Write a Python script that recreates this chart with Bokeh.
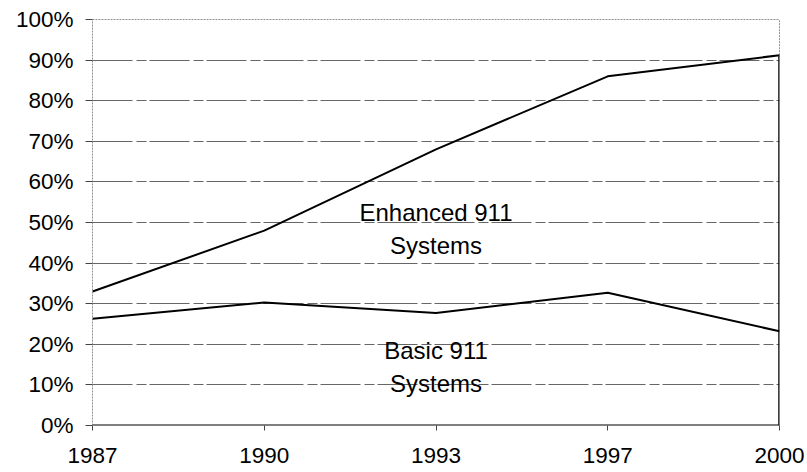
from bokeh.plotting import figure
from bokeh.models import FixedTicker, Range1d
from bokeh.core.properties import value
from bokeh.embed import file_html
from bokeh.resources import INLINE

years = ["1987", "1990", "1993", "1997", "2000"]
upper_line = [33, 48, 68, 86, 91.2]   # top of Enhanced 911 band
lower_line = [26.3, 30.3, 27.7, 32.7, 23.2]  # top of Basic 911 band
y_ticks = [0, 10, 20, 30, 40, 50, 60, 70, 80, 90, 100]

xs = list(range(len(years)))
FONT = "Liberation Sans"

W, H = 805, 468
p = figure(width=W, height=H, output_backend="svg", toolbar_location=None,
           x_range=Range1d(0, len(years) - 1), y_range=Range1d(0, 100),
           min_border_left=92, min_border_right=W - 779,
           min_border_top=19, min_border_bottom=H - 425)
p.outline_line_color = None
p.background_fill_color = "white"
p.border_fill_color = "white"

# axes
p.xaxis.ticker = FixedTicker(ticks=xs)
p.xaxis.major_label_overrides = {i: y for i, y in enumerate(years)}
p.yaxis.ticker = FixedTicker(ticks=y_ticks)
p.yaxis.major_label_overrides = {t: f"{t}%" for t in y_ticks}
for ax in (p.xaxis, p.yaxis):
    ax.axis_line_color = None
    ax.minor_tick_line_color = None
    ax.major_tick_line_color = "#444444"
    ax.major_tick_in = 0
    ax.major_label_text_font = FONT
    ax.major_label_text_font_size = "22.5px"
    ax.major_label_text_color = "black"
p.yaxis.major_tick_out = 7
p.yaxis.major_label_standoff = 12
p.xaxis.major_tick_out = 5
p.xaxis.major_label_standoff = 17

p.xgrid.grid_line_color = None
p.ygrid.ticker = FixedTicker(ticks=y_ticks[1:-1])
p.ygrid.grid_line_color = "#666666"
p.ygrid.grid_line_width = 1
p.ygrid.grid_line_dash = "40 4 10 3"

# frame: top & left dotted, bottom solid
p.segment(x0=[0, 0], y0=[100, 0], x1=[len(years) - 1, 0], y1=[100, 100],
          line_color="#222222", line_width=1, line_dash="2 1")
p.segment(x0=[len(years) - 1], y0=[upper_line[-1]], x1=[len(years) - 1], y1=[100],
          line_color="#222222", line_width=1, line_dash="2 1")
p.segment(x0=[0], y0=[0], x1=[len(years) - 1], y1=[0], line_color="black", line_width=2)
# right vertical edge of the stacked area
p.segment(x0=[len(years) - 1], y0=[0], x1=[len(years) - 1], y1=[upper_line[-1]],
          line_color="black", line_width=2.5)

p.line(xs, upper_line, line_color="black", line_width=2)
p.line(xs, lower_line, line_color="black", line_width=2)

lab_kw = dict(text_font=value(FONT), text_font_size="24px", text_align="center",
              text_baseline="middle", text_color="black")
p.text(x=[2, 2], y=[52.5, 44.3], text=["Enhanced 911", "Systems"], **lab_kw)
p.text(x=[2, 2], y=[18.5, 10.3], text=["Basic 911", "Systems"], **lab_kw)

open("out.html", "w").write(file_html(p, INLINE))
